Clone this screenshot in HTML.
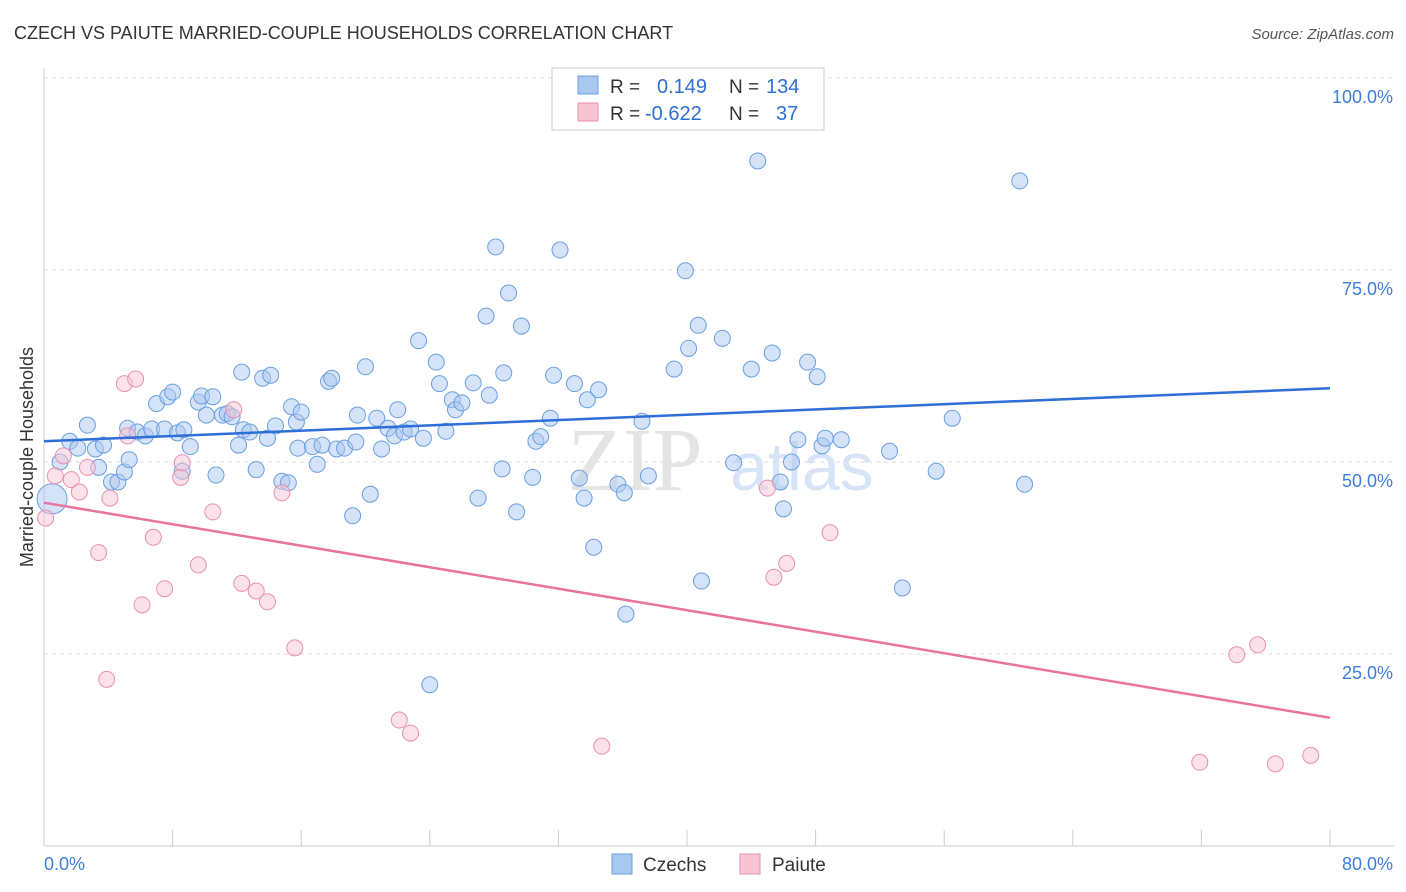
<!DOCTYPE html>
<html><head><meta charset="utf-8"><style>
body{margin:0;background:#fff;font-family:"Liberation Sans",sans-serif;}
svg{display:block}
</style></head><body>
<svg id="chart" width="1406" height="892">
<text x="14" y="39" font-size="18" fill="#333">CZECH VS PAIUTE MARRIED-COUPLE HOUSEHOLDS CORRELATION CHART</text>
<text x="1394" y="39" font-size="15" fill="#555" font-style="italic" text-anchor="end">Source: ZipAtlas.com</text>
<text x="33" y="457" font-size="18" fill="#333" text-anchor="middle" transform="rotate(-90 33 457)">Married-couple Households</text>
<g id="grid"></g>
<g><text x="635" y="490" font-size="90" font-family="Liberation Serif" fill="#e4e4e4" text-anchor="middle">ZIP</text><text x="802" y="490" font-size="68" fill="#d6e4f6" text-anchor="middle">atlas</text></g>
<g id="marks"></g>
<g>
<rect x="552" y="68" width="272" height="62" fill="#fff" stroke="#ccc"/>
<rect x="578" y="76" width="20" height="18" fill="#a9c8f0" stroke="#6a9fe0"/>
<text x="610" y="93" font-size="19" fill="#333">R =</text><text x="657" y="93" font-size="20" fill="#2d6fd6">0.149</text>
<text x="729" y="93" font-size="19" fill="#333">N =</text><text x="766" y="93" font-size="20" fill="#2d6fd6">134</text>
<rect x="578" y="103" width="20" height="18" fill="#f8c4d4" stroke="#e890b0"/>
<text x="610" y="120" font-size="19" fill="#333">R =</text><text x="645" y="120" font-size="20" fill="#2d6fd6">-0.622</text>
<text x="729" y="120" font-size="19" fill="#333">N =</text><text x="776" y="120" font-size="20" fill="#2d6fd6">37</text>
</g>
<g>
<rect x="612" y="854" width="20" height="20" fill="#a9c8f0" stroke="#6a9fe0"/><text x="643" y="871" font-size="19" fill="#333">Czechs</text>
<rect x="740" y="854" width="20" height="20" fill="#f8c4d4" stroke="#e890b0"/><text x="772" y="871" font-size="19" fill="#333">Paiute</text>
</g>
</svg>
<script>
const xTicks=[0,80];
const yTicks=[25,50,75,100];
const czechX=[0.5,1.0,1.6,2.1,2.7,3.2,3.4,3.7,4.2,4.6,5.0,5.3,5.2,5.8,6.3,6.7,7.0,7.5,7.7,8.0,8.3,8.7,9.1,8.6,9.6,9.8,10.1,10.5,10.7,11.1,11.4,11.7,12.1,12.3,12.4,12.8,13.2,13.6,13.9,14.1,14.4,14.8,15.2,15.4,15.7,16.0,15.8,16.7,17.0,17.3,17.7,17.9,18.2,18.7,19.2,19.4,19.5,20.0,20.3,20.7,21.0,21.4,21.8,22.0,22.4,22.8,23.3,23.6,24.0,24.4,24.6,25.0,25.4,25.6,26.0,26.7,27.0,27.5,27.7,28.1,28.5,28.6,28.9,29.4,29.7,30.4,30.6,30.9,31.5,31.7,32.1,33.0,33.3,33.6,33.8,34.2,34.5,35.7,36.1,36.2,37.2,37.6,39.2,39.9,40.1,40.7,40.9,42.2,42.9,44.0,44.4,45.3,45.8,46.0,46.5,46.9,47.5,48.1,48.4,48.6,49.6,52.6,53.4,55.5,56.5,60.7,61.0];
const czechY=[45.2,50.0,52.7,51.8,54.8,51.7,49.3,52.2,47.4,47.4,48.7,50.3,54.4,53.9,53.4,54.3,57.6,54.3,58.5,59.1,53.8,54.2,52.0,48.8,57.8,58.6,56.1,58.5,48.3,56.1,56.3,55.9,52.2,61.7,54.2,53.9,49.0,60.9,53.1,61.3,54.7,47.5,47.3,57.2,55.2,56.5,51.8,52.0,49.7,52.2,60.5,60.9,51.7,51.8,43.0,52.6,56.1,62.4,45.8,55.7,51.7,54.4,53.4,56.8,53.9,54.3,65.8,53.1,21.0,63.0,60.2,54.0,58.1,56.8,57.7,60.3,45.3,69.0,58.7,78.0,49.1,61.6,72.0,43.5,67.7,48.0,52.7,53.3,55.7,61.3,77.6,60.2,47.9,45.3,58.1,38.9,59.4,47.1,46.0,30.2,55.3,48.2,62.1,74.9,64.8,67.8,34.5,66.1,49.9,62.1,89.2,64.2,47.4,43.9,50.0,52.9,63.0,61.1,52.1,53.1,52.9,51.4,33.6,48.8,55.7,86.6,47.1];
const paiuteX=[0.1,0.7,1.2,1.7,2.2,2.7,3.4,3.9,4.1,5.0,5.2,5.7,6.1,6.8,7.5,8.5,8.6,9.6,10.5,11.8,12.3,13.2,13.9,14.8,15.6,22.1,22.8,34.7,45.0,45.4,46.2,48.9,71.9,74.2,75.5,76.6,78.8];
const paiuteY=[42.7,48.2,50.8,47.7,46.1,49.3,38.2,21.7,45.3,60.2,53.4,60.8,31.4,40.2,33.5,48.0,49.9,36.6,43.5,56.8,34.2,33.2,31.8,46.0,25.8,16.4,14.7,13.0,46.6,35.0,36.8,40.8,10.9,24.9,26.2,10.7,11.8];
const czechTrend=[52.7,59.6];
const paiuteTrend=[44.7,16.7];
const NS='http://www.w3.org/2000/svg';
const X=v=>44+v/80*1286, Y=v=>846-v*7.68;
function mk(t,a,p){const e=document.createElementNS(NS,t);for(const k in a)e.setAttribute(k,a[k]);p.appendChild(e);return e;}
const grid=document.getElementById('grid'),marks=document.getElementById('marks');
yTicks.forEach(v=>{
 const l=mk('line',{x1:44,x2:1394,y1:Y(v),y2:Y(v),stroke:'#ddd','stroke-dasharray':'4,4'},grid);
 
 
 const t=mk('text',{x:1393,y:Y(v)+25,'font-size':18,fill:'#3d7ddc','text-anchor':'end'},grid);t.textContent=v.toFixed(1)+'%';
 
 
});
mk('line',{x1:44,x2:44,y1:68,y2:846,stroke:'#ccc'},grid);
mk('line',{x1:44,x2:1394,y1:846,y2:846,stroke:'#ccc'},grid);
for(let i=1;i<=10;i++){const x=X(i*8);mk('line',{x1:x,x2:x,y1:830,y2:846,stroke:'#ccc'},grid);}
xTicks.forEach((v,i)=>{const t=mk('text',{x:i?1393:44,y:870,'font-size':18,fill:'#3d7ddc','text-anchor':i?'end':'start'},grid);t.textContent=v.toFixed(1)+'%';
 
 });
czechX.forEach((x,i)=>{const c=mk('circle',{cx:X(x),cy:Y(czechY[i]),r:i==0?15:8,fill:'#a9c8f0','fill-opacity':0.5,stroke:'#6a9fe0','stroke-width':1},marks);
 
 });
paiuteX.forEach((x,i)=>{const c=mk('circle',{cx:X(x),cy:Y(paiuteY[i]),r:8,fill:'#f8c4d4','fill-opacity':0.5,stroke:'#e890b0','stroke-width':1},marks);
 
 });
const l1=mk('line',{x1:X(0),x2:X(80),y1:Y(czechTrend[0]),y2:Y(czechTrend[1]),stroke:'#2d6fd6','stroke-width':2.5},marks);


const l2=mk('line',{x1:X(0),x2:X(80),y1:Y(paiuteTrend[0]),y2:Y(paiuteTrend[1]),stroke:'#e8739c','stroke-width':2.5},marks);


</script>
</body></html>
